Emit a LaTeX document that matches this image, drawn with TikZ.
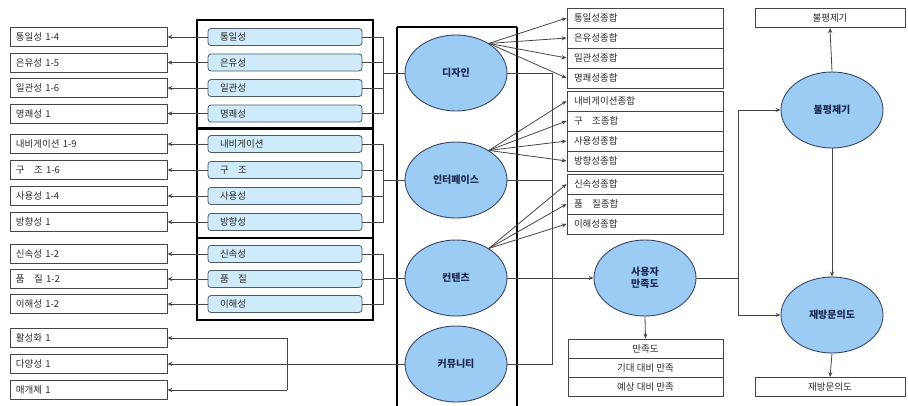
\documentclass[tikz,border=0pt]{standalone}
\usepackage{fontspec}
\setmainfont{Noto Sans CJK KR}
\usetikzlibrary{arrows.meta,shapes.geometric}
\definecolor{ibfill}{HTML}{CFEAF8}
\definecolor{ibdraw}{HTML}{4A5A68}
\definecolor{ovfill}{HTML}{9CCBF4}
\definecolor{ovdraw}{HTML}{3A4868}
\definecolor{ovtext}{HTML}{1C2A50}
\definecolor{bxdraw}{HTML}{454545}
\definecolor{txt}{HTML}{2A2A2A}
\begin{document}
\begin{tikzpicture}[x=1pt,y=-1pt,
  every node/.style={font=\fontsize{9.5}{10}\selectfont, text=txt},
  lbox/.style={draw=bxdraw, line width=0.8pt, text width=145pt, align=left, inner xsep=6pt, inner ysep=0pt, minimum height=19pt,
    path picture={\draw[line width=2pt, black] (path picture bounding box.north west) -- (path picture bounding box.south west);}},
  ibox/.style={draw=ibdraw, line width=0.8pt, fill=ibfill, rounded corners=3pt, text width=130pt, align=left, inner xsep=12pt, inner ysep=0pt, minimum height=17pt},
  rbox/.style={draw=bxdraw, line width=0.8pt, text width=142pt, align=left, inner xsep=7pt, inner ysep=0pt, minimum height=20pt},
  tbox/.style={draw=bxdraw, line width=0.8pt, minimum width=155pt, inner sep=0pt, minimum height=19pt, align=center},
  oval/.style={ellipse, draw=ovdraw, line width=0.9pt, fill=ovfill, minimum width=102pt, minimum height=76pt, inner sep=0pt, align=center, font=\fontsize{10}{11.5}\selectfont\bfseries, text=ovtext},
  frame/.style={draw=black, line width=2.4pt},
  con/.style={draw=bxdraw, line width=0.8pt},
  arr/.style={con, -{Stealth[length=5pt,width=4pt]}}
]
\useasboundingbox (0,0) rectangle (908,405);

% thick frames
\draw[frame] (197,20) rectangle (373,320);
\draw[frame] (197,128.5) -- (373,128.5);
\draw[frame] (197,238) -- (373,238);
\draw[frame] (397,27) -- (397,412) (517,27) -- (517,412) (397,27) -- (517,27);

% left boxes
\node[lbox] (l1) at (88.5,37) {통일성 1-4};
\node[lbox] (l2) at (88.5,62.5) {은유성 1-5};
\node[lbox] (l3) at (88.5,88) {일관성 1-6};
\node[lbox] (l4) at (88.5,113.5) {명쾌성 1};
\node[lbox] (l5) at (88.5,144) {내비게이션 1-9};
\node[lbox] (l6) at (88.5,170) {구\quad 조 1-6};
\node[lbox] (l7) at (88.5,196) {사용성 1-4};
\node[lbox] (l8) at (88.5,222) {방향성 1};
\node[lbox] (l9) at (88.5,254) {신속성 1-2};
\node[lbox] (l10) at (88.5,279) {품\quad 질 1-2};
\node[lbox] (l11) at (88.5,304) {이해성 1-2};
\node[lbox] (l12) at (88.5,338) {활성화 1};
\node[lbox] (l13) at (88.5,364) {다양성 1};
\node[lbox] (l14) at (88.5,390) {매개체 1};

% inner boxes
\node[ibox] (i1) at (285,37) {통일성};
\node[ibox] (i2) at (285,62.5) {은유성};
\node[ibox] (i3) at (285,88) {일관성};
\node[ibox] (i4) at (285,113.5) {명쾌성};
\node[ibox] (i5) at (285,144) {내비게이션};
\node[ibox] (i6) at (285,170) {구\quad 조};
\node[ibox] (i7) at (285,196) {사용성};
\node[ibox] (i8) at (285,222) {방향성};
\node[ibox] (i9) at (285,254) {신속성};
\node[ibox] (i10) at (285,279) {품\quad 질};
\node[ibox] (i11) at (285,304) {이해성};

% ovals
\node[oval] (dz) at (456,73) {디자인};
\node[oval] (ifc) at (456,180) {인터페이스};
\node[oval] (cnt) at (456,278) {컨텐츠};
\node[oval] (cmu) at (456,364) {커뮤니티};
\node[oval] (sat) at (645,278) {사용자\\만족도};
\node[oval] (cmp) at (832,110) {불평제기};
\node[oval] (rev) at (832,315) {재방문의도};

% right boxes
\node[rbox] (r1) at (645,18) {통일성종합};
\node[rbox] (r2) at (645,38) {은유성종합};
\node[rbox] (r3) at (645,58) {일관성종합};
\node[rbox] (r4) at (645,78) {명쾌성종합};
\node[rbox] (r5) at (645,101) {내비게이션종합};
\node[rbox] (r6) at (645,121) {구\quad 조종합};
\node[rbox] (r7) at (645,141) {사용성종합};
\node[rbox] (r8) at (645,161) {방향성종합};
\node[rbox] (r9) at (645,184) {신속성종합};
\node[rbox] (r10) at (645,204) {품\quad 질종합};
\node[rbox] (r11) at (645,224) {이해성종합};

% satisfaction table and outcome boxes
\node[tbox] (t1) at (645.5,348.5) {만족도};
\node[tbox] (t2) at (645.5,367.5) {기대 대비 만족};
\node[tbox] (t3) at (645.5,386.5) {예상 대비 만족};
\node[tbox, minimum width=150pt] (cb) at (830,18) {불평제기};
\node[tbox, minimum width=150pt] (rb) at (830,387) {재방문의도};

% inner -> left arrows
\foreach \k in {1,...,11} \draw[arr] (i\k.west) -- (l\k.east);

% brackets
\coordinate (bx) at (383,0);
\draw[con] (i1.east) -| (bx |- i4.east) -- (i4.east);
\foreach \k in {2,3} \draw[con] (i\k.east) -- (i\k.east -| bx);
\draw[con] (dz.west) -- (dz.west -| bx);
\draw[con] (i5.east) -| (bx |- i8.east) -- (i8.east);
\foreach \k in {6,7} \draw[con] (i\k.east) -- (i\k.east -| bx);
\draw[con] (ifc.west) -- (ifc.west -| bx);
\draw[con] (i9.east) -| (bx |- i11.east) -- (i11.east);
\draw[con] (i10.east) -- (i10.east -| bx);
\draw[con] (cnt.west) -- (cnt.west -| bx);

% community bracket
\coordinate (cx) at (287,0);
\draw[arr] (cmu.west) -- (l13.east);
\draw[con] (cx |- l12.east) -- (cx |- l14.east);
\draw[arr] (cx |- l12.east) -- (l12.east);
\draw[arr] (cx |- l14.east) -- (l14.east);

% fans to right boxes
\foreach \k in {1,...,4} \draw[arr] (dz.42) -- (r\k.west);
\foreach \k in {5,...,8} \draw[arr] (ifc.42) -- (r\k.west);
\foreach \k in {9,10,11} \draw[arr] (cnt.42) -- (r\k.west);

% collector to satisfaction
\coordinate (vx) at (552,0);
\draw[con] (dz.east) -- (dz.east -| vx) -- (cmu.east -| vx) -- (cmu.east);
\draw[con] (ifc.east) -- (ifc.east -| vx);
\draw[arr] (cnt.east) -- (sat.west);
\draw[arr] (sat.south) -- (t1.north);

% satisfaction -> outcomes
\coordinate (ox) at (738,0);
\draw[con] (sat.east) -- (sat.east -| ox);
\draw[arr] (ox |- sat.east) |- (cmp.west);
\draw[arr] (ox |- sat.east) |- (rev.west);
\draw[arr] (cmp.north) -- (cb.south);
\draw[arr] (cmp.south) -- (rev.north);
\draw[arr] (rev.south) -- (rb.north);
\end{tikzpicture}
\end{document}
